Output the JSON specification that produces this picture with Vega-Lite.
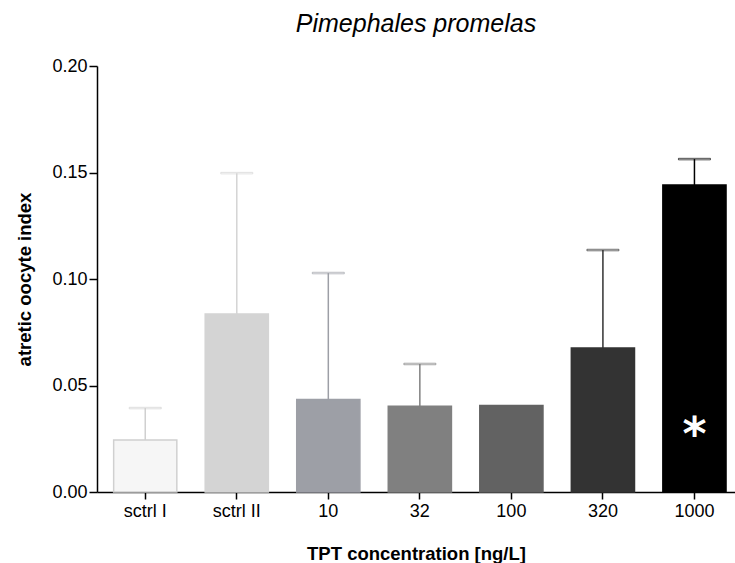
{
  "$schema": "https://vega.github.io/schema/vega-lite/v6.json",
  "autosize": {"type": "none"},
  "padding": {"left": 97, "top": 66, "right": 0, "bottom": 71},
  "width": 638,
  "height": 426,
  "background": "white",
  "title": {
    "text": "Pimephales promelas",
    "font": "Liberation Sans",
    "fontSize": 25,
    "fontStyle": "italic",
    "fontWeight": "normal",
    "color": "black",
    "anchor": "middle",
    "offset": 20
  },
  "config": {
    "view": {"stroke": null},
    "axis": {
      "grid": false,
      "domainColor": "black",
      "domainWidth": 1.5,
      "tickColor": "black",
      "tickWidth": 1.5,
      "labelColor": "black",
      "titleColor": "black",
      "labelFont": "Liberation Sans",
      "titleFont": "Liberation Sans",
      "labelFontSize": 18,
      "titleFontSize": 18.5,
      "titleFontWeight": "bold"
    }
  },
  "data": {
    "values": [
      {"group": "sctrl I", "mean": 0.0244, "upper": 0.0394, "sig": ""},
      {"group": "sctrl II", "mean": 0.0836, "upper": 0.1497, "sig": ""},
      {"group": "10", "mean": 0.0434, "upper": 0.1028, "sig": ""},
      {"group": "32", "mean": 0.0402, "upper": 0.0601, "sig": ""},
      {"group": "100", "mean": 0.0406, "upper": null, "sig": ""},
      {"group": "320", "mean": 0.0676, "upper": 0.1136, "sig": ""},
      {"group": "1000", "mean": 0.1441, "upper": 0.1563, "sig": "*"}
    ]
  },
  "encoding": {
    "x": {
      "field": "group",
      "type": "nominal",
      "sort": null,
      "scale": {"paddingInner": 0.31, "paddingOuter": 0.14, "align": 0.65},
      "axis": {
        "title": "TPT concentration [ng/L]",
        "labelAngle": 0,
        "tickSize": 7,
        "labelPadding": 3,
        "titlePadding": 24
      }
    }
  },
  "layer": [
    {
      "mark": {"type": "bar", "strokeWidth": 1.5},
      "encoding": {
        "y": {
          "field": "mean",
          "type": "quantitative",
          "scale": {"domain": [0, 0.2], "nice": false},
          "axis": {
            "title": "atretic oocyte index",
            "values": [0, 0.05, 0.1, 0.15, 0.2],
            "format": ".2f",
            "tickSize": 8,
            "labelPadding": 2,
            "titlePadding": 17
          }
        },
        "fill": {
          "field": "group",
          "type": "nominal",
          "scale": {
            "domain": ["sctrl I", "sctrl II", "10", "32", "100", "320", "1000"],
            "range": ["#f6f6f6", "#d4d4d4", "#9d9fa6", "#808080", "#626262", "#333333", "#000000"]
          },
          "legend": null
        },
        "stroke": {
          "field": "group",
          "type": "nominal",
          "scale": {
            "domain": ["sctrl I", "sctrl II", "10", "32", "100", "320", "1000"],
            "range": ["#d0d0d0", "#d4d4d4", "#9d9fa6", "#808080", "#626262", "#333333", "#000000"]
          },
          "legend": null
        }
      }
    },
    {
      "transform": [{"filter": "datum.upper != null"}],
      "mark": {"type": "rule", "strokeWidth": 1.5},
      "encoding": {
        "y": {"field": "mean", "type": "quantitative"},
        "y2": {"field": "upper"},
        "stroke": {"field": "group", "type": "nominal", "legend": null}
      }
    },
    {
      "transform": [{"filter": "datum.upper != null"}],
      "mark": {"type": "tick", "size": 32, "thickness": 1.5, "orient": "horizontal"},
      "encoding": {
        "y": {"field": "upper", "type": "quantitative"},
        "color": {"value": null},
        "stroke": {"field": "group", "type": "nominal", "legend": null}
      }
    },
    {
      "transform": [{"filter": "datum.sig != ''"}],
      "mark": {"type": "text", "font": "DejaVu Sans", "fontWeight": "bold", "fontSize": 46, "color": "white", "baseline": "alphabetic", "align": "center"},
      "encoding": {
        "y": {"datum": 0.0195, "type": "quantitative"},
        "text": {"field": "sig"}
      }
    }
  ]
}
